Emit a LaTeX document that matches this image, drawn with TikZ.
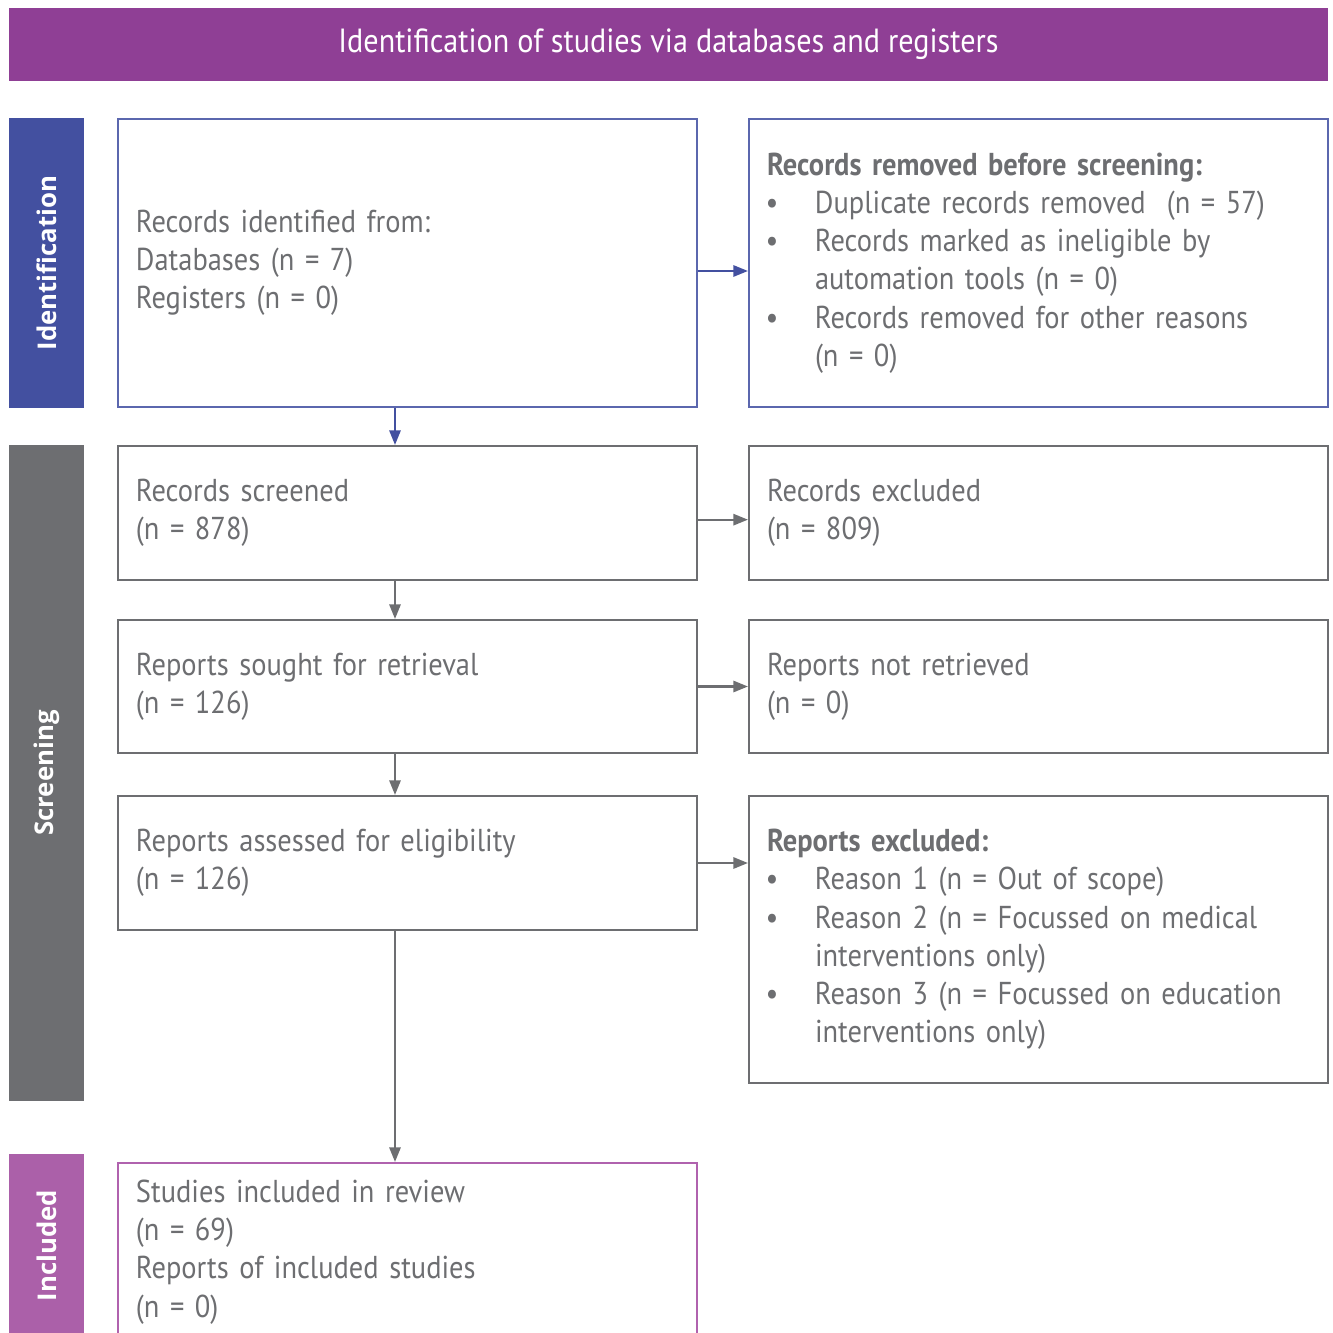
\documentclass[tikz,border=0pt]{standalone}
\usepackage{fontspec}
\setmainfont{PT Sans}[FakeStretch=0.9]
\newfontfamily\sidefont{Open Sans}
\usetikzlibrary{arrows.meta}
\definecolor{hdrpurple}{HTML}{8F3F95}
\definecolor{idblue}{HTML}{4350A0}
\definecolor{idline}{HTML}{5B67AE}
\definecolor{scgrey}{HTML}{6D6E71}
\definecolor{inpink}{HTML}{AB60A9}
\definecolor{inline}{HTML}{B062AE}
\newcommand{\bul}{\makebox[0.72cm][l]{\hspace{-0.02cm}\textbullet}}
\newcommand{\ind}{\hspace*{0.72cm}}

\begin{document}
\begin{tikzpicture}[x=0.015cm,y=-0.015cm,line width=0.9pt,
  box/.style={draw=scgrey,rectangle,minimum width=8.685cm,text width=8.145cm,
    inner xsep=0.27cm,align=left,text=scgrey,font=\fontsize{13.5}{16.3}\selectfont},
  sidebar/.style={fill=#1,rectangle,rotate=90,minimum height=1.125cm,inner sep=0pt,
    text=white,font=\sidefont\bfseries\fontsize{11}{13}\selectfont},
  arr/.style={draw=scgrey,-{Triangle[length=0.22cm,width=0.17cm]}}]

      \useasboundingbox (0,0) rectangle (1333,1333);

      \path (668.5,44.5) node[fill=hdrpurple,minimum width=19.785cm,minimum height=1.095cm,
        text=white,font=\fontsize{14.3}{16}\selectfont] (head) {Identification of studies via databases and registers};

      \path (46.5,263) node[sidebar=idblue,minimum width=4.35cm] (sideid) {Identification};
      \path (46.5,773) node[sidebar=scgrey,minimum width=9.84cm] (sidesc) {Screening};
      \path (46.5,1245.5) node[sidebar=inpink,minimum width=2.745cm] (sidein) {Included};

      \path (407.5,263) node[box,draw=idline,minimum height=4.32cm] (ident)
        {Records identified from:\\Databases (n = 7)\\Registers (n = 0)};
      \path (1038.5,263) node[box,draw=idline,minimum height=4.32cm] (removed)
        {\textbf{Records removed before screening:}\\
         \bul Duplicate records removed\ \ (n = 57)\\
         \bul Records marked as ineligible by\\
         \ind automation tools (n = 0)\\
         \bul Records removed for other reasons\\
         \ind (n = 0)};

      \path (407.5,513) node[box,minimum height=2.01cm] (screened)
        {Records screened\\(n = 878)};
      \path (1038.5,513) node[box,minimum height=2.01cm] (excluded)
        {Records excluded\\(n = 809)};

      \path (407.5,686.5) node[box,minimum height=1.995cm] (sought)
        {Reports sought for retrieval\\(n = 126)};
      \path (1038.5,686.5) node[box,minimum height=1.995cm] (notretr)
        {Reports not retrieved\\(n = 0)};

      \path (407.5,863) node[box,minimum height=2.01cm] (assessed)
        {Reports assessed for eligibility\\(n = 126)};
      \path (1038.5,939.5) node[box,minimum height=4.305cm] (rexcl)
        {\textbf{Reports excluded:}\\
         \bul Reason 1 (n = Out of scope)\\
         \bul Reason 2 (n = Focussed on medical\\
         \ind interventions only)\\
         \bul Reason 3 (n = Focussed on education\\
         \ind interventions only)};

      \path (407.5,1252) node[box,draw=inline,minimum height=2.67cm] (included)
        {Studies included in review\\(n = 69)\\Reports of included studies\\(n = 0)};

      \coordinate (ax) at (395,0);

      \draw[arr,draw=idblue,-{Triangle[length=0.22cm,width=0.17cm,fill=idblue]}] ([yshift=-0.12cm]ident.east) -- ([yshift=-0.12cm]removed.west);
      \draw[arr,draw=idblue,-{Triangle[length=0.22cm,width=0.17cm,fill=idblue]}] (ident.south -| ax) -- (screened.north -| ax);
      \draw[arr] ([yshift=-0.1cm]screened.east) -- ([yshift=-0.1cm]excluded.west);
      \draw[arr] (sought.east) -- (notretr.west);
      \draw[arr] (screened.south -| ax) -- (sought.north -| ax);
      \draw[arr] (sought.south -| ax) -- (assessed.north -| ax);
      \draw[arr] (assessed.east) -- (assessed.east -| rexcl.west);
      \draw[arr] (assessed.south -| ax) -- (included.north -| ax);
   \end{tikzpicture}
\end{document}
